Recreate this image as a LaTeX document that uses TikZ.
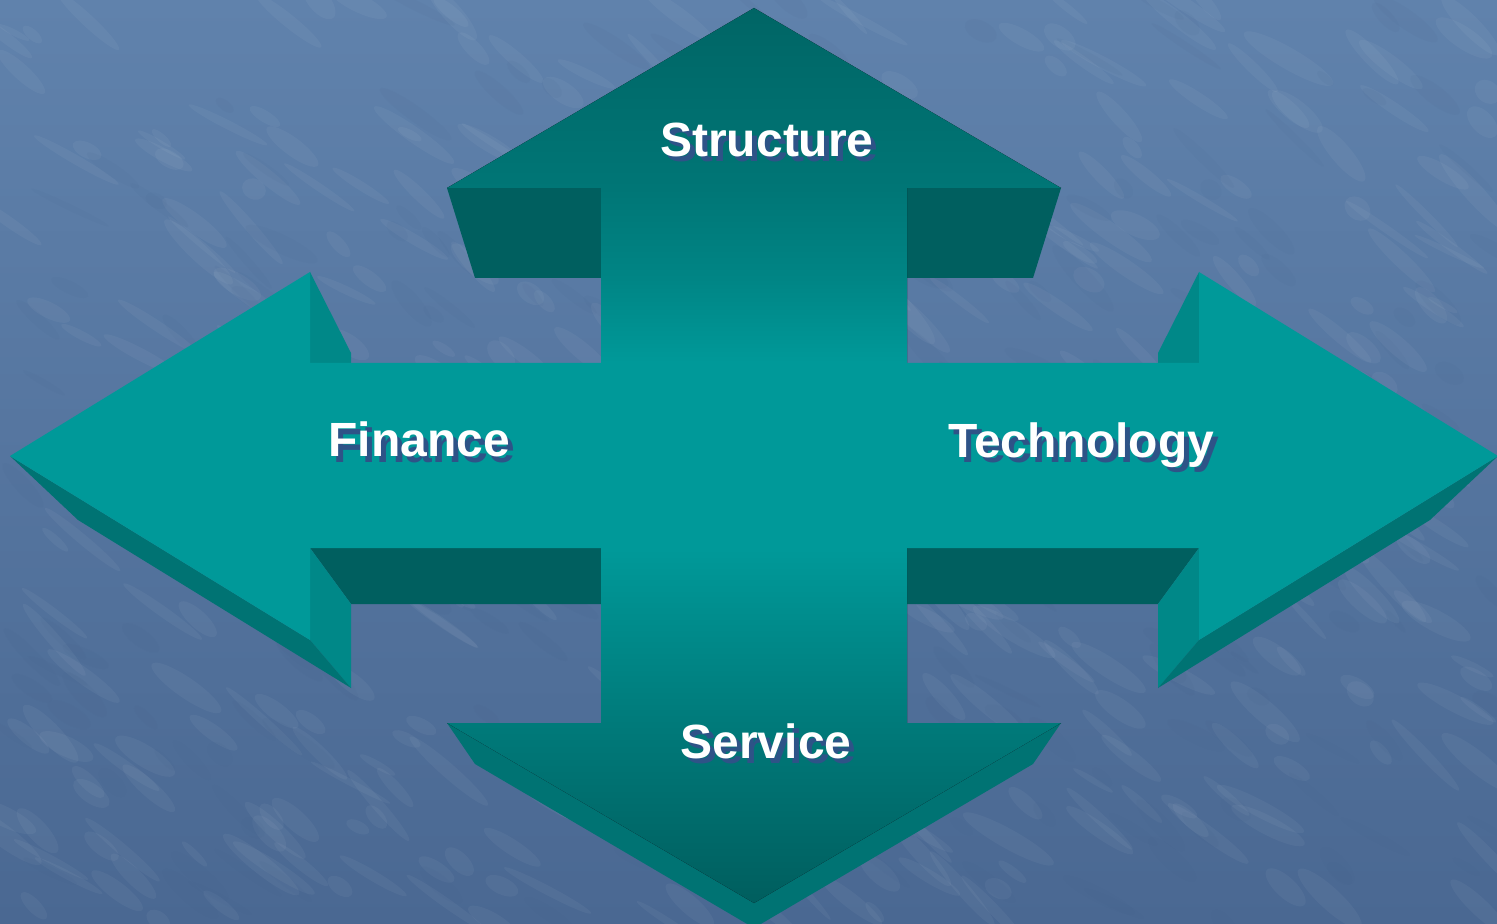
\documentclass[tikz,border=0pt]{standalone}
\usepackage{fontspec}
\setmainfont{Liberation Sans}
\definecolor{bgtop}{HTML}{6082AC}
\definecolor{bgbot}{HTML}{4A6892}
\definecolor{face}{HTML}{009999}
\definecolor{side}{HTML}{008888}
\definecolor{under}{HTML}{005F5F}
\definecolor{bevel}{HTML}{007373}
\definecolor{vA}{HTML}{005E5E}
\definecolor{vB}{HTML}{007A7A}
\definecolor{vC}{HTML}{009999}
\definecolor{vD}{HTML}{008585}
\definecolor{vE}{HTML}{007676}
\definecolor{vF}{HTML}{006565}
\definecolor{shadowc}{HTML}{2E5387}
\definecolor{mottledark}{HTML}{3E5C86}
\pgfdeclareverticalshading{vbar}{100bp}{color(0bp)=(vA); color(25bp)=(vA); color(35bp)=(vB); color(44.8bp)=(vC); color(55.2bp)=(vC); color(59.9bp)=(vD); color(64.9bp)=(vE); color(75bp)=(vF); color(100bp)=(vF)}
\tikzset{
  lbl/.style={font=\fontsize{24}{28}\selectfont\bfseries, inner sep=0pt, text=white},
  lblsh/.style={font=\fontsize{24}{28}\selectfont\bfseries, inner sep=0pt, text=shadowc},
  mottlelight/.style={white, opacity=0.045},
  mottledk/.style={mottledark, opacity=0.06},
}
\begin{document}
\begin{tikzpicture}[x=0.5pt,y=-0.5pt]
\useasboundingbox (0,0) rectangle (1497,924);
% background
\fill[top color=bgtop, bottom color=bgbot] (0,0) rectangle (1497,924);
\pgfmathsetseed{4217}
\begin{scope}
\clip (0,0) rectangle (1497,924);
\foreach \i in {1,...,420}{
  \pgfmathsetmacro{\px}{rnd*1497}
  \pgfmathsetmacro{\py}{rnd*924}
  \pgfmathsetmacro{\rx}{12+rnd*40}
  \pgfmathsetmacro{\ry}{3+rnd*8}
  \pgfmathsetmacro{\ang}{-25-rnd*25}
  \fill[mottlelight] (\px,\py) ellipse [x radius=\rx, y radius=\ry, rotate=\ang];
}
\foreach \i in {1,...,260}{
  \pgfmathsetmacro{\px}{rnd*1497}
  \pgfmathsetmacro{\py}{rnd*924}
  \pgfmathsetmacro{\rx}{10+rnd*35}
  \pgfmathsetmacro{\ry}{3+rnd*7}
  \pgfmathsetmacro{\ang}{-25-rnd*25}
  \fill[mottledk] (\px,\py) ellipse [x radius=\rx, y radius=\ry, rotate=\ang];
}
\end{scope}
% dark undersides of the top head
\fill[under] (447,188) -- (601,188) -- (601,278) -- (475,278) -- cycle;
\fill[under] (907,188) -- (1061,188) -- (1033,278) -- (907,278) -- cycle;
% left arrow 3D parts
\fill[side] (310,272) -- (351,353) -- (351,363) -- (310,363) -- cycle;
\fill[under] (310,548) -- (601,548) -- (601,604) -- (351,604) -- cycle;
\fill[side] (310,548) -- (351,604) -- (351,688) -- (310,640) -- cycle;
\fill[bevel] (10,456) -- (78,520) -- (351,688) -- (310,640) -- cycle;
% right arrow 3D parts
\fill[side] (1199,272) -- (1158,353) -- (1158,363) -- (1199,363) -- cycle;
\fill[under] (1199,548) -- (907,548) -- (907,604) -- (1158,604) -- cycle;
\fill[side] (1199,548) -- (1158,604) -- (1158,688) -- (1199,640) -- cycle;
\fill[bevel] (1498,456) -- (1430,520) -- (1158,688) -- (1199,640) -- cycle;
% bottom arrow bevel
\fill[bevel] (447,723) -- (475,764) -- (754,928) -- (1033,764) -- (1061,723) -- (754,903) -- cycle;
% vertical arrow front face
\fill[shading=vbar] (754,8) -- (1061,188) -- (907,188) -- (907,723) -- (1061,723) -- (754,903)
  -- (447,723) -- (601,723) -- (601,188) -- (447,188) -- cycle;
% horizontal arrows front faces
\fill[face] (10,456) -- (310,272) -- (310,363) -- (601.5,363) -- (601.5,548) -- (310,548) -- (310,640) -- cycle;
\fill[face] (1498,456) -- (1199,272) -- (1199,363) -- (906.5,363) -- (906.5,548) -- (1199,548) -- (1199,640) -- cycle;
% labels
\node[lblsh, anchor=base] (structure-sh) at (772,162) {Structure};
\node[lbl, anchor=base] (structure) at (767,157) {Structure};
\node[lblsh, anchor=base west] (finance-sh) at (333,462) {Finance};
\node[lbl, anchor=base west] (finance) at (328,457) {Finance};
\node[lblsh, anchor=base west] (technology-sh) at (953,463) {Technology};
\node[lbl, anchor=base west] (technology) at (948,458) {Technology};
\node[lblsh, anchor=base] (service-sh) at (771,763) {Service};
\node[lbl, anchor=base] (service) at (766,758) {Service};
\end{tikzpicture}
\end{document}
